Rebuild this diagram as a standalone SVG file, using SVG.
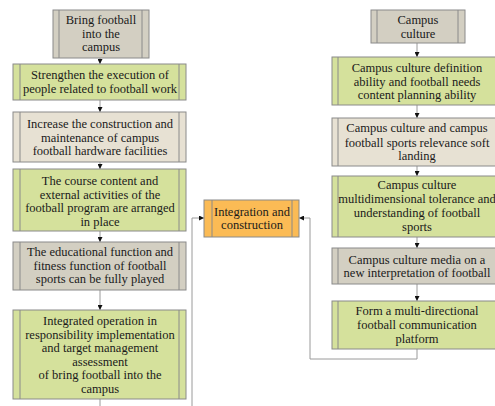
<svg xmlns="http://www.w3.org/2000/svg" width="495" height="406" viewBox="0 0 495 406">
<defs>
<marker id="ah" viewBox="0 0 6 6" refX="6" refY="3" markerWidth="5" markerHeight="5" orient="auto" markerUnits="userSpaceOnUse">
<path d="M0,0 L6,3 L0,6 z" fill="#111"/>
</marker>
</defs>
<style>
.box{stroke:#8a8a8a;stroke-width:1}
.g{fill:#d5e19c}
.s{fill:#d3cfc2}
.b{fill:#e7e1d3}
.o{fill:#fbbb55}
.in{stroke:#8a8a8a;stroke-width:1}
.t text{font-size:12.5px;fill:#1a1a1a;text-anchor:middle}
.c{fill:none;stroke:#9a9a9a;stroke-width:1}
.a{marker-end:url(#ah)}
</style>
<rect width="495" height="406" fill="#ffffff"/>
<g id="connectors">
<path class="c a" d="M100,58 V64"/>
<path class="c a" d="M100,100 V112"/>
<path class="c a" d="M100,162 V169"/>
<path class="c a" d="M100,231 V242"/>
<path class="c a" d="M100,290 V310"/>
<path class="c" d="M100,399 V406"/>
<path class="c a" d="M192,406 V218 H204"/>
<path class="c a" d="M417,43 V57"/>
<path class="c a" d="M417,105 V118"/>
<path class="c a" d="M417,166 V176"/>
<path class="c a" d="M417,237 V248"/>
<path class="c a" d="M417,284 V301"/>
<path class="c a" d="M417,349 V359 H310 V218 H299"/>
</g>
<g class="t" font-family="'Liberation Serif', 'DejaVu Serif', serif">
<g id="n-bring">
<rect class="box s" x="53" y="10" width="96" height="48"/>
<path class="in" d="M59,10 V58 M142,10 V58"/>
<text x="101" y="24">Bring football</text>
<text x="101" y="37.5">into the</text>
<text x="101" y="51">campus</text>
</g>
<g id="n-strengthen">
<rect class="box g" x="13" y="64" width="173" height="36"/>
<path class="in" d="M20,64 V100 M179,64 V100"/>
<text x="100" y="79">Strengthen the execution of</text>
<text x="100" y="93">people related to football work</text>
</g>
<g id="n-increase">
<rect class="box b" x="13" y="112" width="173" height="50"/>
<path class="in" d="M20,112 V162 M179,112 V162"/>
<text x="100" y="128">Increase the construction and</text>
<text x="100" y="141.5">maintenance of campus</text>
<text x="100" y="155">football hardware facilities</text>
</g>
<g id="n-course">
<rect class="box g" x="13" y="169" width="173" height="62"/>
<path class="in" d="M20,169 V231 M179,169 V231"/>
<text x="100" y="185">The course content and</text>
<text x="100" y="198.5">external activities of the</text>
<text x="100" y="212">football program are arranged</text>
<text x="100" y="225.5">in place</text>
</g>
<g id="n-educational">
<rect class="box s" x="13" y="242" width="173" height="48"/>
<path class="in" d="M20,242 V290 M179,242 V290"/>
<text x="100" y="256">The educational function and</text>
<text x="100" y="269.5">fitness function of football</text>
<text x="100" y="283">sports can be fully played</text>
</g>
<g id="n-integrated">
<rect class="box g" x="13" y="310" width="173" height="89"/>
<path class="in" d="M20,310 V399 M179,310 V399"/>
<text x="100" y="325">Integrated operation in</text>
<text x="100" y="338.5">responsibility implementation</text>
<text x="100" y="352">and target management</text>
<text x="100" y="365.5">assessment</text>
<text x="100" y="379">of bring football into the</text>
<text x="100" y="392.5">campus</text>
</g>
<g id="n-integration">
<rect class="box o" x="204" y="200" width="95" height="37"/>
<path class="in" d="M212,200 V237 M292,200 V237"/>
<text x="252" y="215.5">Integration and</text>
<text x="252" y="229">construction</text>
</g>
<g id="n-culture">
<rect class="box s" x="371" y="10" width="94" height="33"/>
<path class="in" d="M377,10 V43 M458,10 V43"/>
<text x="418" y="24">Campus</text>
<text x="418" y="37.5">culture</text>
</g>
<g id="n-definition">
<rect class="box g" x="332" y="57" width="170" height="48"/>
<path class="in" d="M338,57 V105"/>
<text x="417" y="72">Campus culture definition</text>
<text x="417" y="85.5">ability and football needs</text>
<text x="417" y="99">content planning ability</text>
</g>
<g id="n-relevance">
<rect class="box b" x="332" y="118" width="170" height="48"/>
<path class="in" d="M338,118 V166"/>
<text x="417" y="132">Campus culture and campus</text>
<text x="417" y="146.5">football sports relevance soft</text>
<text x="417" y="160">landing</text>
</g>
<g id="n-tolerance">
<rect class="box g" x="332" y="176" width="170" height="61"/>
<path class="in" d="M338,176 V237"/>
<text x="417" y="189">Campus culture</text>
<text x="417" y="203">multidimensional tolerance and</text>
<text x="417" y="217">understanding of football</text>
<text x="417" y="231">sports</text>
</g>
<g id="n-media">
<rect class="box s" x="332" y="248" width="170" height="36"/>
<path class="in" d="M338,248 V284"/>
<text x="417" y="263.5">Campus culture media on a</text>
<text x="417" y="277">new interpretation of football</text>
</g>
<g id="n-platform">
<rect class="box g" x="332" y="301" width="170" height="48"/>
<path class="in" d="M338,301 V349"/>
<text x="417" y="315">Form a multi-directional</text>
<text x="417" y="329">football communication</text>
<text x="417" y="343">platform</text>
</g>
</g>
</svg>
